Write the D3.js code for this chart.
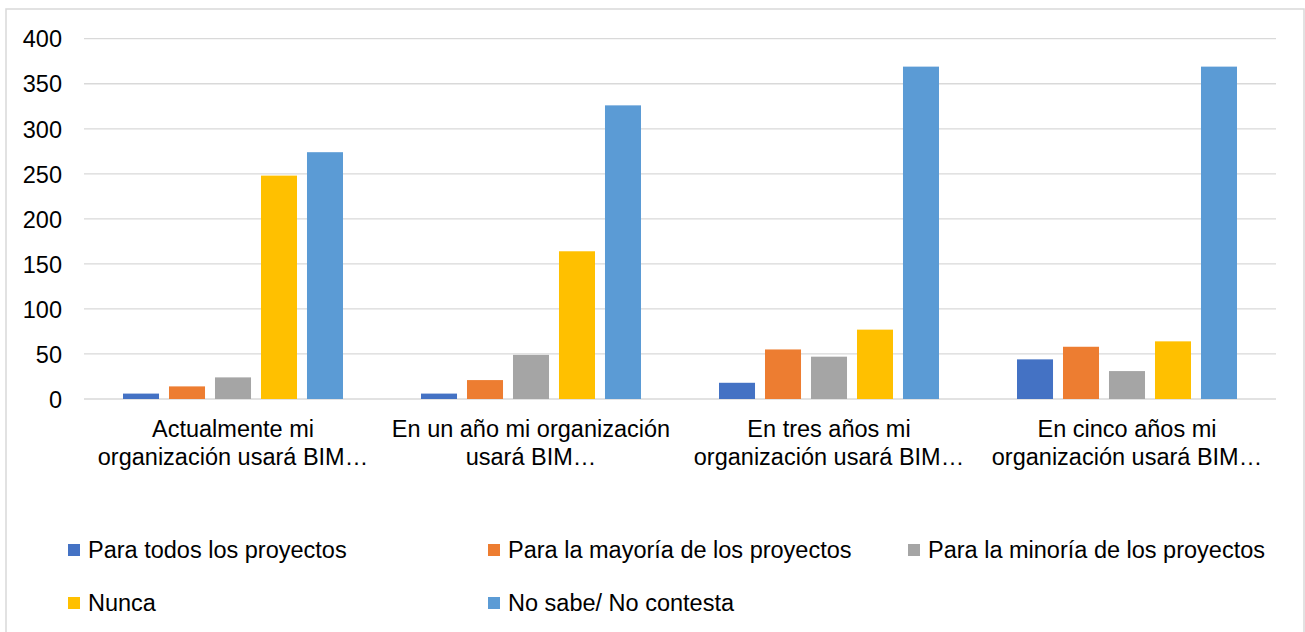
<!DOCTYPE html>
<html>
<head>
<meta charset="utf-8">
<script src="https://cdn.jsdelivr.net/npm/d3@7/dist/d3.min.js"></script>
<style>
  html, body { margin: 0; padding: 0; background: #fff; }
  svg { display: block; }
  text { font-family: "Liberation Sans", Arial, sans-serif; fill: #000; }
</style>
</head>
<body>
<svg id="chart" width="1305" height="632"></svg>
<script>
// Categories (each label split into its two displayed lines)
const categories = [
  "Actualmente mi organización usará BIM",
  "En un año mi organización usará BIM",
  "En tres años mi organización usará BIM",
  "En cinco años mi organización usará BIM"
];
const categoryLines = [
  ["Actualmente mi", "organización usará BIM…"],
  ["En un año mi organización", "usará BIM…"],
  ["En tres años mi", "organización usará BIM…"],
  ["En cinco años mi", "organización usará BIM…"]
];

// Series names and their values per category
const seriesNames = [
  "Para todos los proyectos",
  "Para la mayoría de los proyectos",
  "Para la minoría de los proyectos",
  "Nunca",
  "No sabe/ No contesta"
];
const paraTodos    = [6, 6, 18, 44];
const paraMayoria  = [14, 21, 55, 58];
const paraMinoria  = [24, 49, 47, 31];
const nunca        = [248, 164, 77, 64];
const noSabe       = [274, 326, 369, 369];

const yTicks = [0, 50, 100, 150, 200, 250, 300, 350, 400];

const colors = ["#4472C4", "#ED7D31", "#A5A5A5", "#FFC000", "#5B9BD5"];

const seriesValues = [paraTodos, paraMayoria, paraMinoria, nunca, noSabe];
const data = categories.map((c, i) => ({
  category: c,
  values: seriesNames.map((s, j) => ({ series: s, value: seriesValues[j][i] }))
}));

const svg = d3.select("#chart");

// Outer chart frame
svg.append("rect")
  .attr("x", 6).attr("y", 9)
  .attr("width", 1298).attr("height", 640)
  .attr("fill", "#fff")
  .attr("stroke", "#d9d9d9")
  .attr("stroke-width", 1.5);

const plot = { left: 84, right: 1276, top: 38.7, bottom: 399 };

const y = d3.scaleLinear().domain([0, 400]).range([plot.bottom, plot.top]);

const x0 = d3.scaleBand()
  .domain(categories)
  .range([plot.left, plot.right])
  .paddingInner(0).paddingOuter(0);

const groupMargin = 39;
const x1 = d3.scaleBand()
  .domain(seriesNames)
  .range([groupMargin, x0.bandwidth() - groupMargin])
  .paddingInner(0.217).paddingOuter(0);

const color = d3.scaleOrdinal().domain(seriesNames).range(colors);

// Gridlines
svg.append("g")
  .selectAll("line")
  .data(yTicks)
  .join("line")
  .attr("x1", plot.left).attr("x2", plot.right)
  .attr("y1", d => y(d)).attr("y2", d => y(d))
  .attr("stroke", "#d9d9d9")
  .attr("stroke-width", 1.3);

// Y axis labels
const yAxis = d3.axisLeft(y).tickValues(yTicks).tickSize(0).tickPadding(0);
const yg = svg.append("g")
  .attr("transform", "translate(62,0)")
  .call(yAxis);
yg.select(".domain").remove();
yg.selectAll("text")
  .style("font-family", '"Liberation Sans", Arial, sans-serif')
  .style("font-size", "23.5px")
  .attr("fill", "#000")
  .attr("dy", "0.35em");

// Bars
svg.append("g")
  .selectAll("g")
  .data(data)
  .join("g")
  .attr("transform", d => `translate(${x0(d.category)},0)`)
  .selectAll("rect")
  .data(d => d.values)
  .join("rect")
  .attr("x", d => x1(d.series))
  .attr("width", x1.bandwidth())
  .attr("y", d => y(d.value))
  .attr("height", d => y(0) - y(d.value))
  .attr("fill", d => color(d.series));

// Category labels
const cat = svg.append("g")
  .selectAll("text")
  .data(categories)
  .join("text")
  .attr("text-anchor", "middle")
  .attr("x", d => x0(d) + x0.bandwidth() / 2)
  .attr("y", 437)
  .style("font-size", "23.5px");
cat.selectAll("tspan")
  .data((d, i) => categoryLines[i])
  .join("tspan")
  .attr("x", function () { return d3.select(this.parentNode).attr("x"); })
  .attr("dy", (d, i) => i === 0 ? 0 : 28)
  .text(d => d);

// Legend: three columns, two rows
const legendCols = [68, 488, 908];
const legendRows = [558, 611];
const legend = svg.append("g")
  .selectAll("g")
  .data(seriesNames)
  .join("g")
  .attr("transform", (d, i) => `translate(${legendCols[i % 3]},${legendRows[Math.floor(i / 3)]})`);
legend.append("rect")
  .attr("x", 0).attr("y", -14)
  .attr("width", 12).attr("height", 12)
  .attr("fill", d => color(d));
legend.append("text")
  .attr("x", 20).attr("y", 0)
  .style("font-size", "23.5px")
  .text(d => d);
</script>
</body>
</html>
